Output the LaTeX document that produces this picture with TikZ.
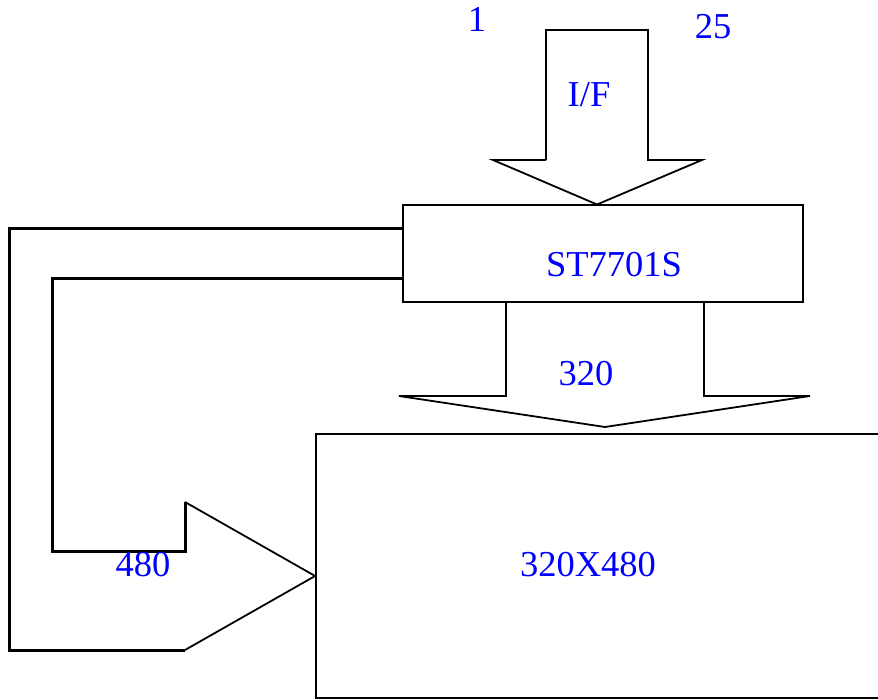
\documentclass[tikz,border=0pt]{standalone}
\usepackage{fontspec}
\setmainfont{Liberation Serif}
\begin{document}
\begin{tikzpicture}[x=1pt,y=-1pt,
  thinline/.style={draw=black,line width=1.8pt,line join=miter},
  thickline/.style={draw=black,line width=3pt,line join=miter},
  boxnode/.style={draw=black,line width=1.8pt,rectangle,inner sep=0pt},
  lbl/.style={text=blue,font=\fontsize{36.5}{40}\selectfont,anchor=base,inner sep=0pt}]
\useasboundingbox (0,0) rectangle (878,700);
\clip (0,0) rectangle (878,700);
% boxes
\node[boxnode,minimum width=400pt,minimum height=97pt] (chip) at (603,253.5) {};
\node[boxnode,minimum width=570pt,minimum height=264pt] (panel) at (601,566) {};
% top I/F arrow
\coordinate (t1) at (546,30);
\coordinate (t2) at (648,30);
\coordinate (t3) at (648,160);
\coordinate (t4) at (702,160);
\coordinate (ttip) at (597,204.5);
\coordinate (t5) at (493,160);
\coordinate (t6) at (546,160);
\draw[thinline] (t6) -- (t1) -- (t2) -- (t3) -- (t4) -- (ttip) -- (t5) -- (t6);
% 320 arrow
\coordinate (m1) at (506,302);
\coordinate (m2) at (506,396);
\coordinate (m3) at (399,396);
\coordinate (mtip) at (605,427);
\coordinate (m4) at (810,396);
\coordinate (m5) at (704,396);
\coordinate (m6) at (704,302);
\draw[thinline] (m1) -- (m2) -- (m3) -- (mtip) -- (m4) -- (m5) -- (m6);
% left 480 arrow
\coordinate (a1) at (chip.west |- 0,229);
\coordinate (a2) at (9,229);
\coordinate (a3) at (9,650);
\coordinate (a4) at (185,650);
\coordinate (atip) at (panel.west |- 0,576);
\coordinate (a5) at (185,502);
\coordinate (a6) at (185,551);
\coordinate (a7) at (52,551);
\coordinate (a8) at (52,279);
\coordinate (a9) at (chip.west |- 0,279);
\draw[thickline] (a1) -- (a2) -- (a3) -- (a4);
\draw[thickline] (a9) -- (a8) -- (a7) -- (a6) -- (a5);
\draw[thinline] (a4) -- (atip) -- (a5);
% labels
\node[lbl] (l1) at (477,32) {1};
\node[lbl] (l25) at (713,39) {25};
\node[lbl] (lif) at (589,107) {I/F};
\node[lbl] (lchip) at (614,277) {ST7701S};
\node[lbl] (l320) at (586,385) {320};
\node[lbl] (lpanel) at (588,576) {320X480};
\node[lbl] (l480) at (143,576) {480};
\end{tikzpicture}
\end{document}
